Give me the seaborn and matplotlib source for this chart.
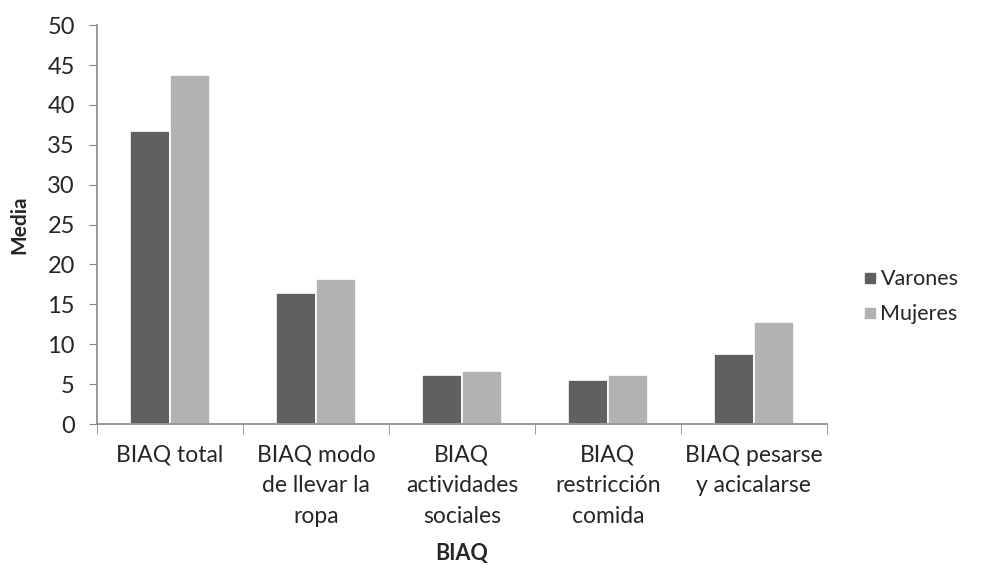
import seaborn as sns
import matplotlib.pyplot as plt
import pandas as pd
from matplotlib.lines import Line2D

categorias = ["BIAQ total", "BIAQ modo\nde llevar la\nropa", "BIAQ\nactividades\nsociales",
              "BIAQ\nrestricción\ncomida", "BIAQ pesarse\ny acicalarse"]
varones = [36.7, 16.45, 6.1, 5.5, 8.75]
mujeres = [43.8, 18.2, 6.7, 6.1, 12.8]
grupos = ["Varones", "Mujeres"]
colores = ["#606060", "#b2b2b2"]

df = pd.DataFrame({
    "cat": categorias * 2,
    "media": varones + mujeres,
    "sexo": ["Varones"] * len(categorias) + ["Mujeres"] * len(categorias),
})

sns.set_style("white")
plt.rcParams['font.family'] = ['Lato', 'DejaVu Sans']

fig = plt.figure(figsize=(9.82, 5.71), dpi=100)
ax = fig.add_axes([0.0988, 0.2574, 0.7432, 0.6986])

sns.barplot(data=df, x="cat", y="media", hue="sexo", hue_order=grupos,
            palette=colores, width=0.55, edgecolor="white", linewidth=1.2,
            legend=False, ax=ax)

ax.set_ylim(0, 50)
ax.set_xlim(-0.5, len(categorias) - 0.5)
ax.set_yticks(range(0, 51, 5))
ax.tick_params(axis="y", labelsize=17, length=6, color="#888888", direction="out",
               left=True, pad=10)
ax.set_xticks(range(len(categorias)))
ax.set_xticklabels(categorias, fontsize=16.5, linespacing=1.55)
ax.tick_params(axis="x", which="major", length=0, pad=15)
ax.set_xticks([i - 0.5 for i in range(len(categorias) + 1)], minor=True)
ax.tick_params(axis="x", which="minor", length=7, color="#888888", bottom=True)

for s in ["top", "right"]:
    ax.spines[s].set_visible(False)
for s in ["left", "bottom"]:
    ax.spines[s].set_color("#888888")
    ax.spines[s].set_linewidth(1.2)

ax.set_ylabel("Media", fontsize=15, fontweight="bold", labelpad=13)
ax.set_xlabel("BIAQ", fontsize=15.5, fontweight="bold", labelpad=12)

handles = [Line2D([], [], marker="s", linestyle="", markersize=7, color=c) for c in colores]
fig.legend(handles, grupos, loc="center left", bbox_to_anchor=(0.878, 0.48),
           frameon=False, fontsize=15.5, handletextpad=0.15, labelspacing=0.7,
           handlelength=0.7, borderaxespad=0, borderpad=0)

fig.savefig("out.png", dpi=100)
